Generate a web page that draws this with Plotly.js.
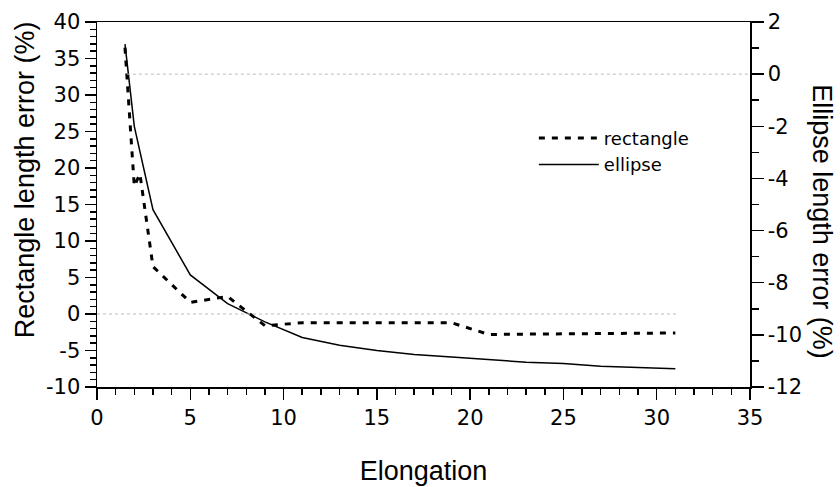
<!DOCTYPE html>
<html>
<head>
<meta charset="utf-8">
<script src="https://cdn.plot.ly/plotly-3.0.1.min.js"></script>
<style>html,body{margin:0;padding:0;background:#fff;}#chart{width:840px;height:487px;}</style>
</head>
<body>
<div id="chart"></div>
<script>
// Rectangle length error (%) — left axis
const rectX = [1.5, 2, 2.3, 3, 5, 7, 9, 11, 13, 15, 17, 19, 21, 23, 25, 27, 29, 31];
const rectY = [36.5, 17.5, 19.2, 6.5, 1.6, 2.4, -1.6, -1.2, -1.2, -1.2, -1.2, -1.2, -2.8, -2.75, -2.7, -2.65, -2.6, -2.6];
// Ellipse length error (%) — right axis
const ellX = [1.5, 2, 3, 5, 7, 9, 11, 13, 15, 17, 19, 21, 23, 25, 27, 29, 31];
const ellY = [1.15, -2.0, -5.2, -7.7, -8.8, -9.5, -10.1, -10.4, -10.6, -10.75, -10.85, -10.95, -11.05, -11.1, -11.2, -11.25, -11.3];

const seriesNames = ['rectangle', 'ellipse'];
const xTitle = 'Elongation';
const yTitle = 'Rectangle length error (%)';
const y2Title = 'Ellipse length error (%)';

// tick labels (plain hyphen minus as in the reference)
const xTickVals = [0, 5, 10, 15, 20, 25, 30, 35];
const xTickText = ['0', '5', '10', '15', '20', '25', '30', '35'];
const yTickVals = [-10, -5, 0, 5, 10, 15, 20, 25, 30, 35, 40];
const yTickText = ['-10', '-5', '0', '5', '10', '15', '20', '25', '30', '35', '40'];
const y2TickVals = [-12, -10, -8, -6, -4, -2, 0, 2];
const y2TickText = ['-12', '-10', '-8', '-6', '-4', '-2', '0', '2'];

const tickFont = {family: 'DejaVu Sans', size: 21, color: '#000'};
const titleFont = {family: 'Liberation Sans, Arial', size: 27, color: '#000'};

const traces = [
  {x: rectX, y: rectY, name: seriesNames[0], mode: 'lines', yaxis: 'y',
   line: {color: '#000', width: 3, dash: '6px,7px'}},
  {x: ellX, y: ellY, name: seriesNames[1], mode: 'lines', yaxis: 'y2',
   line: {color: '#000', width: 1.5}}
];

const axisCommon = {
  showgrid: false, zeroline: false, showline: true, linecolor: '#000', linewidth: 1.5,
  ticks: 'outside', tickcolor: '#000', tickwidth: 1.5, tickfont: tickFont, tickmode: 'array'
};

const layout = {
  width: 840, height: 487,
  margin: {l: 97, r: 90, t: 22, b: 100},
  paper_bgcolor: '#fff', plot_bgcolor: '#fff',
  showlegend: true,
  legend: {x: 0.669, y: 0.732, xanchor: 'left', yanchor: 'top', bgcolor: 'rgba(0,0,0,0)',
           itemwidth: 60,
           font: {family: 'DejaVu Sans', size: 18, color: '#000'}, tracegroupgap: 0},
  xaxis: Object.assign({}, axisCommon, {
    range: [0, 35], tickvals: xTickVals, ticktext: xTickText, ticklen: 11, mirror: true,
    minor: {dtick: 1, ticklen: 6, ticks: 'outside', tickcolor: '#000', tickwidth: 1.5},
    title: {text: xTitle, font: titleFont, standoff: 32}
  }),
  yaxis: Object.assign({}, axisCommon, {
    range: [-10, 40], tickvals: yTickVals, ticktext: yTickText, ticklen: 11,
    minor: {dtick: 1, ticklen: 6, ticks: 'outside', tickcolor: '#000', tickwidth: 1.5}
  }),
  yaxis2: Object.assign({}, axisCommon, {
    range: [-12, 2], tickvals: y2TickVals, ticktext: y2TickText, ticklen: 12,
    overlaying: 'y', side: 'right',
    minor: {dtick: 1, ticklen: 7, ticks: 'outside', tickcolor: '#000', tickwidth: 1.5}
  }),
  shapes: [
    {type: 'line', xref: 'x', yref: 'y', x0: 0, x1: 31.2, y0: 0, y1: 0,
     line: {color: '#bbbbbb', width: 1, dash: 'dot'}},
    {type: 'line', xref: 'x', yref: 'y2', x0: 1.6, x1: 35, y0: 0, y1: 0,
     line: {color: '#bbbbbb', width: 1, dash: 'dot'}}
  ],
  annotations: [
    {text: yTitle, xref: 'paper', yref: 'paper', x: -0.110, y: 0.567, xanchor: 'center', yanchor: 'middle',
     textangle: -90, showarrow: false, font: titleFont},
    {text: y2Title, xref: 'paper', yref: 'paper', x: 1.110, y: 0.452, xanchor: 'center', yanchor: 'middle',
     textangle: 90, showarrow: false, font: titleFont}
  ]
};

Plotly.newPlot('chart', traces, layout, {displayModeBar: false, staticPlot: true});
</script>
</body>
</html>
